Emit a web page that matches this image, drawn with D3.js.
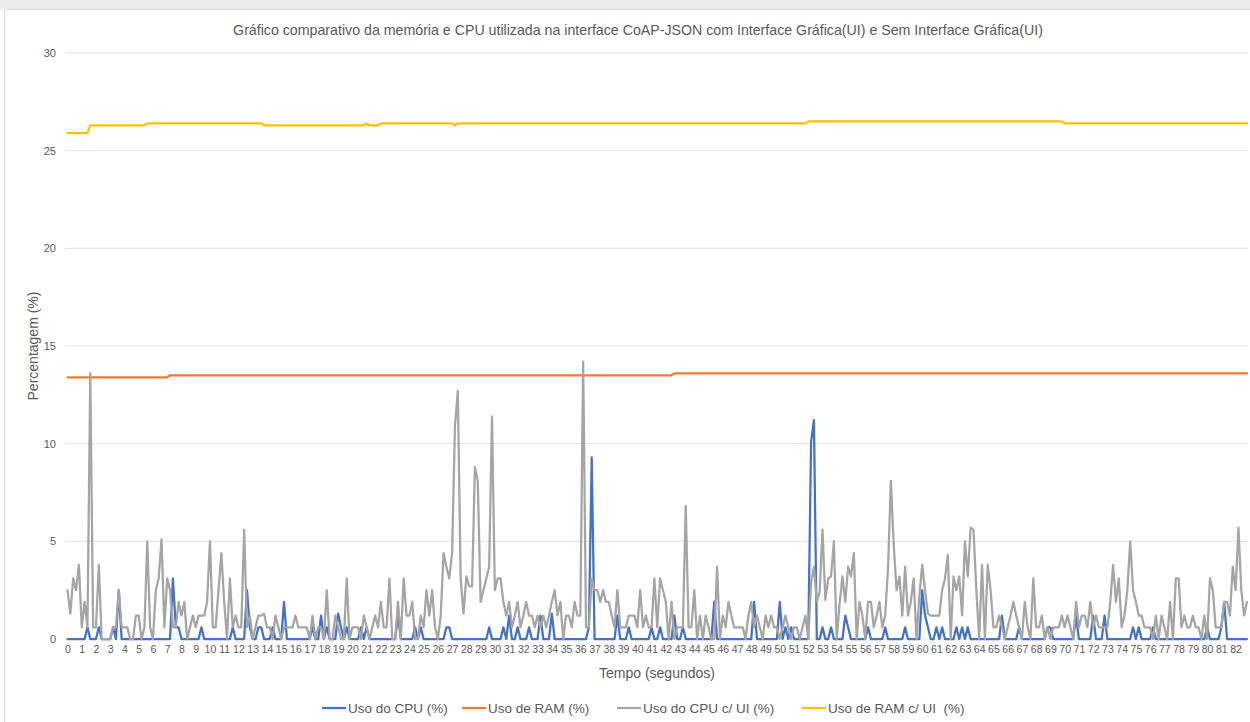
<!DOCTYPE html>
<html>
<head>
<meta charset="utf-8">
<script src="https://cdn.jsdelivr.net/npm/d3@7"></script>
<style>
  body { margin: 0; background: #fff; }
  svg { display: block; font-family: "Liberation Sans", Arial, sans-serif; }
</style>
</head>
<body>
<svg id="chart" width="1250" height="722"></svg>
<script>
// sample step (seconds) between readings
const step = 0.2;

// tick labels on the time axis
const secondLabels = d3.range(0, 83);

// Uso do CPU (%) - one row per second, 5 readings each
const cpu = [
  0, 0, 0, 0, 0,
  0, 0, 0.6, 0, 0,
  0, 0.6, 0, 0, 0,
  0, 0.6, 0, 2.5, 0,
  0, 0, 0, 0, 0,
  0, 0, 0, 0, 0,
  0, 0, 0, 0, 0,
  0, 0, 3.1, 0.6, 0.6,
  0, 0, 0, 0, 0,
  0, 0, 0.6, 0, 0,
  0, 0, 0, 0, 0,
  0, 0, 0, 0.6, 0,
  0, 0, 0, 2.5, 0.6,
  0, 0, 0.6, 0.6, 0,
  0, 0, 0.6, 0, 0,
  0, 1.9, 0, 0, 0,
  0, 0, 0, 0, 0,
  0, 0.6, 0, 0, 1.2,
  0, 0.6, 0, 0, 0,
  1.3, 0.6, 0, 0.6, 0,
  0, 0, 0, 0.6, 0,
  0.6, 0, 0, 0, 0,
  0, 0, 0, 0, 0,
  0, 1.2, 0, 0, 0,
  0, 0, 0.6, 0, 0.6,
  0, 0, 0, 0, 0,
  0, 0, 0, 0.6, 0.6,
  0, 0, 0, 0, 0,
  0, 0, 0, 0, 0,
  0, 0, 0, 0.6, 0,
  0, 0, 0, 0.6, 0,
  1.2, 0, 0, 0.6, 0,
  0, 0, 0.6, 0, 0,
  0, 1.2, 0, 0, 0,
  1.3, 0, 0, 0, 0,
  0, 0, 0, 0, 0,
  0, 0, 0, 0.6, 9.3,
  0, 0, 0, 0, 0,
  0, 0, 0, 1.2, 0,
  0, 0, 0.6, 0, 0,
  0, 0, 0, 0, 0,
  0.6, 0, 0, 0.6, 0,
  0, 0, 0, 1.2, 0,
  0, 0.6, 0, 0, 0,
  0, 0, 0, 0, 0,
  0, 0, 1.9, 0, 0,
  0, 0, 0, 0, 0,
  0, 0, 0, 0, 0,
  0, 1.9, 0, 0, 0,
  0, 0, 0, 0, 0,
  1.9, 0, 0.6, 0, 0.6,
  0, 0, 0, 0, 0,
  0, 10.1, 11.2, 0, 0,
  0.6, 0, 0, 0.6, 0,
  0, 0, 0, 1.2, 0.6,
  0, 0, 0, 0, 0,
  0, 0.6, 0, 0, 0,
  0, 0, 0.6, 0, 0,
  0, 0, 0, 0, 0.6,
  0, 0, 0, 0, 0,
  2.5, 1.2, 0.6, 0, 0,
  0.6, 0, 0.6, 0, 0,
  0, 0, 0.6, 0, 0.6,
  0, 0.6, 0, 0, 0,
  0, 0, 0, 0, 0,
  0, 0, 0, 1.2, 0,
  0, 0, 0, 0, 0.6,
  0, 0, 0, 0, 0,
  0, 0, 0, 0, 0.6,
  0.6, 0, 0, 0, 0,
  0, 0, 0, 0, 1.2,
  0, 0, 0, 0, 0,
  1.2, 0, 0, 0, 1.2,
  0, 0, 0, 0, 0,
  0, 0, 0, 0, 0.6,
  0, 0.6, 0, 0, 0,
  0, 0.6, 0, 0, 0,
  0, 0, 0, 0, 0,
  0, 0, 0, 0, 0,
  0, 0, 0, 0, 0,
  0.6, 0, 0, 0, 0,
  0.6, 1.9, 0, 0, 0,
  0, 0, 0, 0, 0
];

// Uso do CPU c/ UI (%)
const cpuUi = [
  2.5, 1.3, 3.1, 2.5, 3.8,
  0.6, 1.9, 0.6, 13.6, 0.6,
  0.6, 3.8, 0, 0, 0,
  0, 0.6, 0.6, 2.5, 0.6,
  0.6, 0.6, 0, 0, 1.2,
  1.2, 0, 0.6, 5.0, 0.6,
  0, 2.5, 3.1, 5.1, 0.6,
  3.1, 2.5, 0.6, 0.6, 1.9,
  1.2, 1.9, 0, 0.6, 1.2,
  0.6, 1.2, 1.2, 1.2, 1.9,
  5.0, 0.6, 0.6, 2.5, 4.4,
  1.9, 0, 3.1, 0.6, 1.2,
  0.6, 0.6, 5.6, 0.6, 1.2,
  0, 0.6, 1.2, 1.2, 1.3,
  0.6, 0.6, 0, 1.2, 0.6,
  0, 0.6, 0.6, 0.6, 0.6,
  1.2, 0.6, 0.6, 0.6, 0.6,
  0, 1.2, 0, 0.6, 0.6,
  0, 2.5, 0, 0, 1.2,
  0.6, 0, 0, 3.1, 0,
  0.6, 0.6, 0.6, 0, 1.2,
  0.6, 0, 0.6, 1.2, 0.6,
  1.9, 0.6, 0.6, 3.1, 0,
  0, 1.9, 0, 3.1, 1.2,
  1.2, 1.9, 0, 0, 1.2,
  0.6, 2.5, 1.2, 2.5, 0.6,
  0, 1.2, 4.4, 3.7, 3.1,
  4.4, 10.9, 12.7, 3.1, 1.3,
  3.2, 2.7, 2.7, 8.8, 8.1,
  1.9, 2.5, 3.1, 3.7, 11.4,
  2.5, 3.1, 3.1, 1.9, 1.2,
  1.9, 0.6, 1.2, 1.9, 0.6,
  1.2, 1.9, 1.2, 1.2, 0.6,
  1.2, 0.6, 1.2, 0.6, 1.2,
  1.9, 2.5, 1.2, 1.9, 0,
  1.2, 1.2, 0.6, 1.9, 1.2,
  1.2, 14.2, 0.6, 0.6, 3.1,
  2.5, 2.5, 1.9, 2.5, 1.9,
  1.9, 1.2, 0.6, 2.5, 0.6,
  0.6, 0.6, 1.2, 1.2, 1.2,
  0.6, 2.5, 0.6, 1.2, 0.6,
  0.6, 3.1, 0.6, 3.1, 2.5,
  1.9, 0, 1.9, 0, 0.6,
  0.6, 0.6, 6.8, 0.6, 0.6,
  2.5, 0, 1.2, 0, 1.2,
  0.6, 0, 0, 3.7, 0,
  1.2, 0.6, 1.9, 1.2, 0.6,
  0.6, 0.6, 0.6, 0, 1.2,
  1.9, 0.6, 1.2, 0.6, 0,
  1.2, 0.6, 1.2, 0.6, 0.6,
  0, 0.6, 1.2, 0.6, 0,
  0.6, 0.6, 0, 0.6, 1.2,
  0, 2.9, 3.7, 1.9, 2.4,
  5.6, 2.0, 3.1, 3.2, 5.0,
  0, 1.8, 3.2, 1.9, 3.7,
  3.2, 4.4, 0, 1.9, 1.2,
  0, 1.9, 1.9, 0.6, 1.2,
  1.9, 0.6, 1.2, 3.6, 8.1,
  4.8, 2.5, 3.2, 1.2, 3.7,
  1.2, 1.9, 3.1, 0, 2.2,
  3.8, 2.5, 1.3, 1.2, 1.2,
  1.2, 1.2, 2.5, 3.1, 4.3,
  0, 3.2, 2.5, 3.2, 1.2,
  5.0, 3.2, 5.7, 5.6, 2.5,
  0, 3.8, 0, 3.8, 2.5,
  0.6, 0.6, 1.2, 0.6, 0,
  0.6, 1.2, 1.9, 1.2, 0.6,
  0, 1.9, 0.6, 0, 3.1,
  0.6, 0.6, 1.2, 0, 0.6,
  0, 0.6, 0.6, 0.6, 1.2,
  0.6, 1.2, 0.6, 0, 1.9,
  0.6, 1.2, 1.2, 0.6, 1.9,
  0.6, 1.2, 0.6, 0.6, 0.6,
  0.6, 1.9, 3.8, 1.9, 3.1,
  0.6, 1.2, 2.5, 5.0, 2.5,
  1.9, 1.2, 1.2, 0.6, 0.6,
  0.6, 0, 1.2, 0, 1.2,
  0.6, 0, 1.9, 0, 3.1,
  3.1, 0.6, 1.2, 0.6, 0.6,
  1.2, 0.6, 0.6, 0, 1.2,
  0, 3.1, 2.5, 0.6, 0.6,
  0.6, 1.9, 1.9, 1.2, 3.7,
  2.5, 5.7, 2.5, 1.2, 1.9
];

// Uso de RAM (%) - readings where the level changes (time s, value)
const ramTimes  = [0, 7.0, 7.2, 42.4, 42.6, 82.8];
const ramValues = [13.4, 13.4, 13.5, 13.5, 13.6, 13.6];

// Uso de RAM c/ UI (%)
const ramUiTimes  = [0, 1.4, 1.6, 5.4, 5.6, 13.6, 13.8, 20.8, 21.0, 21.2, 21.8, 22.0, 27.0, 27.2, 27.4, 51.8, 52.0, 69.8, 70.0, 82.8];
const ramUiValues = [25.9, 25.9, 26.3, 26.3, 26.4, 26.4, 26.3, 26.3, 26.4, 26.3, 26.3, 26.4, 26.4, 26.3, 26.4, 26.4, 26.5, 26.5, 26.4, 26.4];

const yTicks = [0, 5, 10, 15, 20, 25, 30];

const seriesNames = ["Uso do CPU (%)", "Uso de RAM (%)", "Uso do CPU c/ UI (%)", "Uso de RAM c/ UI  (%)"];
const colors = ["#4472C4", "#ED7D31", "#A5A5A5", "#FFC000"];

// build point lists
const toPts = arr => arr.map((v, i) => ({t: i * step, v: v}));
const pairPts = (ts, vs) => ts.map((t, i) => ({t: t, v: vs[i]}));
const series = [
  toPts(cpu),
  pairPts(ramTimes, ramValues),
  toPts(cpuUi),
  pairPts(ramUiTimes, ramUiValues)
];

const svg = d3.select("#chart");
const textColor = "#595959";

// chart area frame
svg.append("rect").attr("x", 0).attr("y", 0).attr("width", 1250).attr("height", 9).attr("fill", "#ececec");
svg.append("rect").attr("x", 4.5).attr("y", 9.5).attr("width", 1250).attr("height", 720)
  .attr("fill", "#fff").attr("stroke", "#d9d9d9");

const x = d3.scaleLinear().domain([0, 82.8]).range([67.5, 1247]);
const y = d3.scaleLinear().domain([0, 30]).range([639, 53]);

// gridlines
svg.append("g")
  .selectAll("line")
  .data(yTicks)
  .join("line")
    .attr("x1", 65).attr("x2", 1248)
    .attr("y1", d => y(d)).attr("y2", d => y(d))
    .attr("stroke", "#e2e2e2").attr("stroke-width", 1);

// y axis labels
svg.append("g")
  .call(d3.axisLeft(y).tickValues(yTicks).tickSize(0).tickPadding(0))
  .attr("transform", "translate(56,0)")
  .call(g => g.select(".domain").remove())
  .selectAll("text")
    .attr("fill", textColor)
    .style("font-size", "11px")
    .style("font-family", "'Liberation Sans', Arial, sans-serif");

// x axis labels
svg.append("g")
  .attr("transform", "translate(0,646)")
  .call(d3.axisBottom(x).tickValues(secondLabels).tickFormat(d3.format("d")).tickSize(0).tickPadding(0))
  .call(g => g.select(".domain").remove())
  .selectAll("text")
    .attr("fill", textColor)
    .style("font-size", "10.5px")
    .style("font-family", "'Liberation Sans', Arial, sans-serif");

// lines
const line = d3.line().x(d => x(d.t)).y(d => y(d.v));
svg.append("g")
  .selectAll("path")
  .data(series)
  .join("path")
    .attr("d", line)
    .attr("fill", "none")
    .attr("stroke", (d, i) => colors[i])
    .attr("stroke-width", 2.25)
    .attr("stroke-linejoin", "round")
    .attr("stroke-linecap", "round");

// title
svg.append("text")
  .attr("x", 638).attr("y", 35)
  .attr("text-anchor", "middle")
  .attr("fill", textColor)
  .style("font-size", "14.2px")
  .text("Gráfico comparativo da memória e CPU utilizada na interface CoAP-JSON com Interface Gráfica(UI) e Sem Interface Gráfica(UI)");

// axis titles
svg.append("text")
  .attr("transform", "translate(38,346) rotate(-90)")
  .attr("text-anchor", "middle")
  .attr("fill", textColor)
  .style("font-size", "14px")
  .text("Percentagem (%)");

svg.append("text")
  .attr("x", 657).attr("y", 678)
  .attr("text-anchor", "middle")
  .attr("fill", textColor)
  .style("font-size", "14px")
  .text("Tempo (segundos)");

// legend
const legendX = [322, 462, 617, 802];
const leg = svg.append("g")
  .selectAll("g")
  .data(seriesNames)
  .join("g")
    .attr("transform", (d, i) => `translate(${legendX[i]},708)`);
leg.append("line")
  .attr("x1", 0).attr("x2", 24)
  .attr("stroke", (d, i) => colors[i])
  .attr("stroke-width", 2.25);
leg.append("text")
  .attr("x", 26).attr("y", 5)
  .attr("fill", textColor)
  .style("font-size", "13.5px")
  .style("white-space", "pre")
  .text(d => d);
</script>
</body>
</html>
